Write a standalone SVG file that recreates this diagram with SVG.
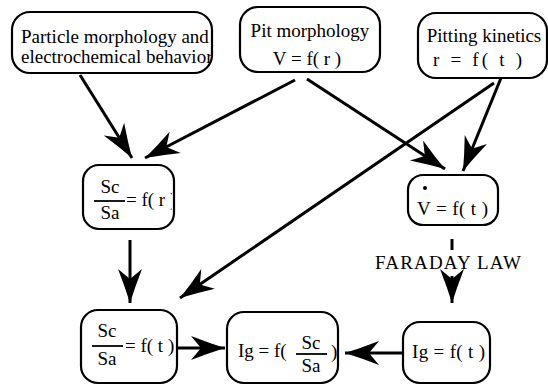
<svg xmlns="http://www.w3.org/2000/svg" width="548" height="387" viewBox="0 0 548 387" font-family="'Liberation Serif', 'DejaVu Serif', serif">
<style>
.box{fill:#fff;stroke:#000;stroke-width:2.2}
text{font-family:'Liberation Serif','DejaVu Serif',serif;font-size:19px;fill:#000}
.c{text-anchor:middle}
.con{stroke:#000;stroke-width:3;fill:none}
.frac{stroke:#000;stroke-width:1.8}
</style>
<defs>
<marker id="ah" markerUnits="userSpaceOnUse" markerWidth="40" markerHeight="30" viewBox="-36 -14 40 28" refX="0" refY="0" orient="auto">
<path d="M0,0 Q-16,-5 -34,-12 L-24,0 L-34,12 Q-16,5 0,0 Z" fill="#000"/>
</marker>
<clipPath id="clip1"><rect x="12" y="12" width="199" height="61"/></clipPath>
<clipPath id="clip4"><rect x="83" y="165" width="89" height="64"/></clipPath>
</defs>
<rect width="548" height="387" fill="#fff"/>

<g id="connectors">
<path class="con" d="M80,75 L132,158" marker-end="url(#ah)"/>
<path class="con" d="M295,80 L145,158" marker-end="url(#ah)"/>
<path class="con" d="M307,79 L445,169" marker-end="url(#ah)"/>
<path class="con" d="M501,78 L463,171" marker-end="url(#ah)"/>
<path class="con" d="M494,83 L180,298" marker-end="url(#ah)"/>
<path class="con" d="M130,240 L130,303" marker-end="url(#ah)"/>
<path class="con" d="M177,348 L225,348" marker-end="url(#ah)"/>
<path class="con" d="M402,353 L345,353" marker-end="url(#ah)"/>
<path class="con" d="M452,239 L452,250"/>
<path class="con" d="M452,276 L452,303" marker-end="url(#ah)"/>
<text x="375" y="269" font-size="17" textLength="146">FARADAY LAW</text>
</g>

<g id="particle">
<rect class="box" x="12" y="12" width="200" height="61" rx="18"/>
<g clip-path="url(#clip1)">
<text x="21" y="43">Particle morphology and</text>
<text x="21" y="63">electrochemical behavior</text>
</g>
</g>

<g id="pit">
<rect class="box" x="240" y="7" width="140" height="65" rx="18"/>
<text class="c" x="310" y="37">Pit morphology</text>
<text class="c" x="307" y="65">V = f( r )</text>
</g>

<g id="kinetics">
<rect class="box" x="418" y="13" width="129" height="65" rx="18"/>
<text class="c" x="484" y="42">Pitting kinetics</text>
<text x="433" y="66" textLength="89">r = f( t )</text>
</g>

<g id="scsa-r">
<rect class="box" x="83" y="165" width="91" height="64" rx="16"/>
<text class="c" x="110" y="193" font-size="18">Sc</text>
<line class="frac" x1="94" y1="201" x2="125" y2="201"/>
<text class="c" x="110" y="219" font-size="18">Sa</text>
<g clip-path="url(#clip4)"><text x="126" y="206">= f( r )</text></g>
</g>

<g id="vdot">
<rect class="box" x="408" y="175" width="90" height="50" rx="15"/>
<circle cx="425" cy="188" r="2" fill="#000"/>
<text x="417" y="215" textLength="71">V = f( t )</text>
</g>

<g id="scsa-t">
<rect class="box" x="81" y="310" width="96" height="73" rx="17"/>
<text class="c" x="107" y="337" font-size="18">Sc</text>
<line class="frac" x1="92" y1="346" x2="123" y2="346"/>
<text class="c" x="107" y="365" font-size="18">Sa</text>
<text x="125" y="352">= f( t )</text>
</g>

<g id="ig-scsa">
<rect class="box" x="227" y="312" width="111" height="71" rx="17"/>
<text x="238" y="357">Ig = f(</text>
<text class="c" x="311" y="349" font-size="18">Sc</text>
<line class="frac" x1="296" y1="354" x2="327" y2="354"/>
<text class="c" x="311" y="372" font-size="18">Sa</text>
<text x="331" y="358">)</text>
</g>

<g id="ig-t">
<rect class="box" x="403" y="322" width="87" height="61" rx="17"/>
<text x="412" y="358" textLength="73">Ig = f( t )</text>
</g>
</svg>
